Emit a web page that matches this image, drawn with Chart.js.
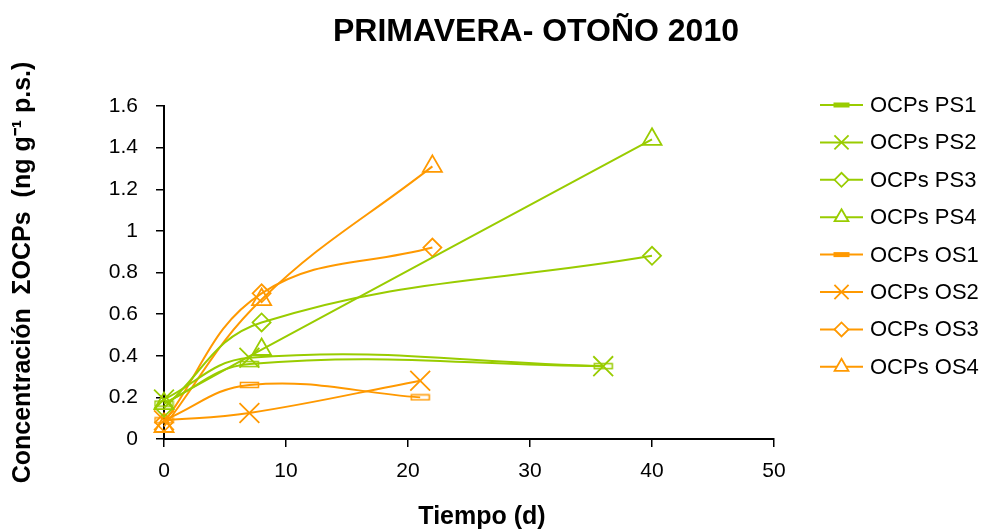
<!DOCTYPE html>
<html>
<head>
<meta charset="utf-8">
<script src="https://cdn.jsdelivr.net/npm/chart.js@4.4.1/dist/chart.umd.min.js"></script>
<style>
  html, body { margin: 0; padding: 0; background: #fff; }
  #wrap { width: 988px; height: 531px; position: relative; }
</style>
</head>
<body>
<div id="wrap"><canvas id="c" width="988" height="531"></canvas></div>
<script>
// ---- data ----
const seriesNames = ['OCPs PS1','OCPs PS2','OCPs PS3','OCPs PS4','OCPs OS1','OCPs OS2','OCPs OS3','OCPs OS4'];
const ps1X = [0, 7, 36];   const ps1Y = [0.17, 0.36, 0.35];
const ps2X = [0, 7, 36];   const ps2Y = [0.19, 0.39, 0.35];
const ps3X = [0, 8, 40];   const ps3Y = [0.15, 0.56, 0.88];
const ps4X = [0, 8, 40];   const ps4Y = [0.17, 0.43, 1.44];
const os1X = [0, 7, 21];   const os1Y = [0.09, 0.26, 0.20];
const os2X = [0, 7, 21];   const os2Y = [0.09, 0.125, 0.28];
const os3X = [0, 8, 22];   const os3Y = [0.08, 0.70, 0.92];
const os4X = [0, 8, 22];   const os4Y = [0.06, 0.67, 1.31];
const xTicks = [0, 10, 20, 30, 40, 50];
const yTicks = [0, 0.2, 0.4, 0.6, 0.8, 1, 1.2, 1.4, 1.6];
const chartTitle = 'PRIMAVERA- OTOÑO 2010';
const xTitle = 'Tiempo (d)';
const yTitle = 'Concentración  ΣOCPs  (ng g⁻¹ p.s.)';

const GREEN = 'rgb(153,204,0)';
const ORANGE = 'rgb(255,153,0)';
const FONT = '"Liberation Sans", Arial, sans-serif';

function dashCanvas(color) {
  const c = document.createElement('canvas');
  c.width = 21; c.height = 8;
  const ctx = c.getContext('2d');
  ctx.strokeStyle = color; ctx.lineWidth = 1.5;
  ctx.strokeRect(1.5, 1.5, 18, 5);
  return c;
}

function pts(xs, ys) { return xs.map((x, i) => ({x: x, y: ys[i]})); }

const defs = [
  [ps1X, ps1Y, GREEN, 'dash', 0],
  [ps2X, ps2Y, GREEN, 'crossRot', 14],
  [ps3X, ps3Y, GREEN, 'rectRot', 9],
  [ps4X, ps4Y, GREEN, 'triangle', 11],
  [os1X, os1Y, ORANGE, 'dash', 0],
  [os2X, os2Y, ORANGE, 'crossRot', 14],
  [os3X, os3Y, ORANGE, 'rectRot', 9],
  [os4X, os4Y, ORANGE, 'triangle', 11]
];

const datasets = defs.map((d, i) => ({
  label: seriesNames[i],
  data: pts(d[0], d[1]),
  borderColor: d[2],
  backgroundColor: 'rgba(0,0,0,0)',
  borderWidth: 2,
  tension: 0.4,
  pointStyle: d[3] === 'dash' ? dashCanvas(d[2]) : d[3],
  pointRadius: d[3] === 'dash' ? 10 : d[4],
  pointBorderColor: d[2],
  pointBackgroundColor: 'rgba(0,0,0,0)',
  pointBorderWidth: 1.8,
  clip: false,
  _marker: d[3]
}));

const titlePlugin = {
  id: 'customTitle',
  afterDraw(chart) {
    const ctx = chart.ctx;
    ctx.save();
    ctx.fillStyle = '#000';
    ctx.textAlign = 'center';
    ctx.textBaseline = 'middle';
    ctx.font = 'bold 32px ' + FONT;
    ctx.fillText(chartTitle, 536, 32);
    ctx.font = 'bold 25px ' + FONT;
    ctx.fillText(xTitle, 482, 517);
    ctx.restore();
  }
};

const legendPlugin = {
  id: 'customLegend',
  afterDraw(chart) {
    const ctx = chart.ctx;
    const x0 = 820, x1 = 863, tx = 870, y0 = 105, dy = 37.4;
    chart.data.datasets.forEach((ds, i) => {
      const y = y0 + i * dy;
      ctx.save();
      ctx.strokeStyle = ds.borderColor;
      ctx.lineWidth = 2;
      ctx.beginPath(); ctx.moveTo(x0, y); ctx.lineTo(x1, y); ctx.stroke();
      const cx = (x0 + x1) / 2;
      if (ds._marker === 'dash') {
        ctx.fillStyle = ds.borderColor;
        ctx.fillRect(cx - 8, y - 2.5, 16, 5);
      } else {
        const r = ds._marker === 'crossRot' ? 10 : (ds._marker === 'rectRot' ? 7 : 8);
        ctx.fillStyle = '#fff';
        ctx.strokeStyle = ds.borderColor;
        ctx.lineWidth = 1.8;
        Chart.helpers.drawPoint(ctx, {pointStyle: ds._marker, radius: r, borderWidth: 1.8, rotation: 0}, cx, y);
      }
      ctx.fillStyle = '#000';
      ctx.font = '22px ' + FONT;
      ctx.textAlign = 'left';
      ctx.textBaseline = 'middle';
      ctx.fillText(ds.label, tx, y + 1);
      ctx.restore();
    });
  }
};

new Chart(document.getElementById('c'), {
  type: 'line',
  data: { datasets: datasets },
  options: {
    responsive: false,
    animation: false,
    layout: { padding: { left: 0, right: 214, top: 106, bottom: 0 } },
    plugins: { legend: { display: false }, title: { display: false }, tooltip: { enabled: false } },
    scales: {
      x: {
        type: 'linear', min: 0, max: 50,
        afterBuildTicks: s => { s.ticks = xTicks.map(v => ({value: v})); },
        afterFit: s => { s.height = 92; },
        grid: { display: true, drawOnChartArea: false, drawTicks: true, tickLength: 8, color: '#000', lineWidth: 1.5 },
        border: { display: true, color: '#000', width: 2 },
        ticks: { color: '#000', font: { family: FONT, size: 21 }, padding: 12, maxRotation: 0 },
        title: { display: false }
      },
      y: {
        type: 'linear', min: 0, max: 1.6,
        afterBuildTicks: s => { s.ticks = yTicks.map(v => ({value: v})); },
        afterFit: s => { s.width = 164; },
        grid: { display: true, drawOnChartArea: false, drawTicks: true, tickLength: 8, color: '#000', lineWidth: 1.5 },
        border: { display: true, color: '#000', width: 2 },
        ticks: { color: '#000', font: { family: FONT, size: 21 }, padding: 18,
                 callback: v => String(+Number(v).toFixed(1)) },
        title: { display: true, text: yTitle, color: '#000', font: { family: FONT, size: 25, weight: 'bold' }, padding: { top: 8, bottom: 0 } }
      }
    }
  },
  plugins: [titlePlugin, legendPlugin]
});
</script>
</body>
</html>
